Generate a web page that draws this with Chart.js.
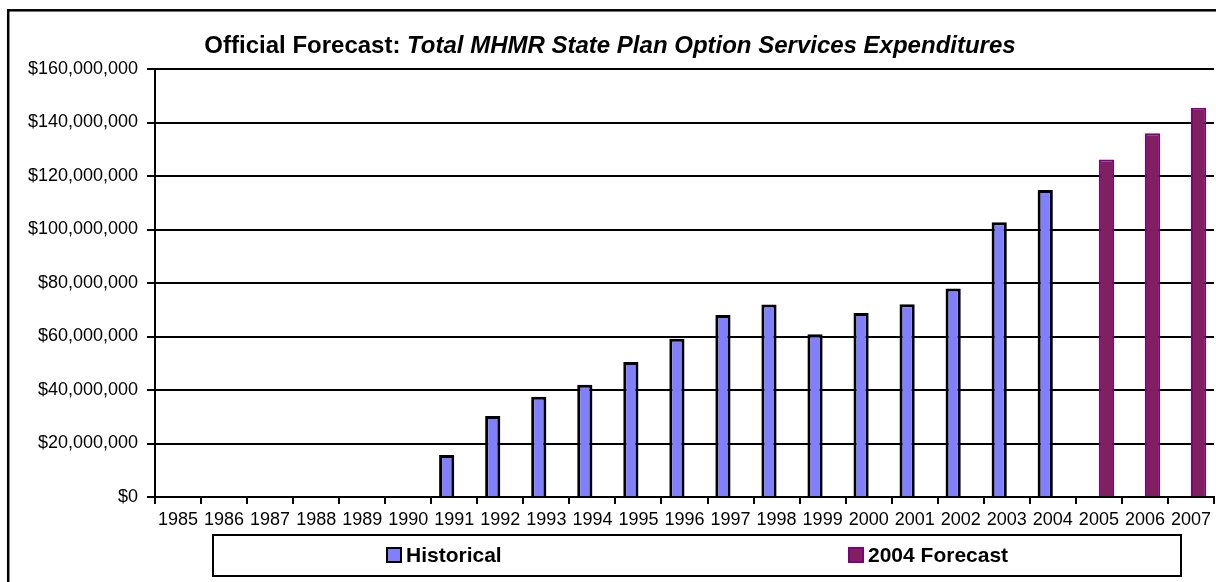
<!DOCTYPE html>
<html>
<head>
<meta charset="utf-8">
<script src="https://cdn.jsdelivr.net/npm/chart.js@4.4.1/dist/chart.umd.min.js"></script>
<style>
  html, body { margin: 0; padding: 0; background: #fff; }
  #wrap { position: relative; width: 1216px; height: 582px; }
</style>
</head>
<body>
<div id="wrap"><canvas id="chart" width="1216" height="582"></canvas></div>
<script>
(function () {

  var years = ['1985', '1986', '1987', '1988', '1989', '1990', '1991', '1992', '1993', '1994', '1995', '1996',
    '1997', '1998', '1999', '2000', '2001', '2002', '2003', '2004', '2005', '2006', '2007'];
  var historical = [null, null, null, null, null, null, 15700000, 30300000, 37500000, 42000000, 50500000, 59200000,
    68000000, 72000000, 60800000, 68800000, 72100000, 77900000, 102700000, 114800000, null, null, null];
  var forecast = [null, null, null, null, null, null, null, null, null, null, null, null,
    null, null, null, null, null, null, null, null, 126200000, 136000000, 145500000];
  var yTicks = [0, 20000000, 40000000, 60000000, 80000000, 100000000, 120000000, 140000000, 160000000];
  var seriesNames = ['Historical', '2004 Forecast'];
  var titleLead = 'Official Forecast: ';
  var titleRest = 'Total MHMR State Plan Option Services Expenditures';

  var FONT = '"Liberation Sans", Arial, Helvetica, sans-serif';

  // outer frame + white background
  var framePlugin = {
    id: 'frame',
    beforeDraw: function (chart) {
      var ctx = chart.ctx;
      ctx.save();
      ctx.fillStyle = '#fff';
      ctx.fillRect(0, 0, chart.width, chart.height);
      ctx.strokeStyle = '#000';
      ctx.lineWidth = 2.5;
      ctx.strokeRect(8.2, 10.3, chart.width + 20, chart.height + 20);
      ctx.restore();
    }
  };

  // title with a bold lead and a bold italic rest
  var titlePlugin = {
    id: 'mixedTitle',
    afterDraw: function (chart) {
      var ctx = chart.ctx;
      ctx.save();
      ctx.fillStyle = '#000';
      ctx.textBaseline = 'alphabetic';
      ctx.font = 'bold 24px ' + FONT;
      var w1 = ctx.measureText(titleLead).width;
      ctx.font = 'italic bold 24px ' + FONT;
      var w2 = ctx.measureText(titleRest).width;
      var x0 = 610 - (w1 + w2) / 2;
      ctx.font = 'bold 24px ' + FONT;
      ctx.fillText(titleLead, x0, 53);
      ctx.font = 'italic bold 24px ' + FONT;
      ctx.fillText(titleRest, x0 + w1, 53);
      ctx.restore();
    }
  };

  // boxed legend under the axis
  var legendPlugin = {
    id: 'boxLegend',
    afterDraw: function (chart) {
      var ctx = chart.ctx;
      var ds = chart.data.datasets;
      var slots = [387, 849];
      ctx.save();
      ctx.strokeStyle = '#000';
      ctx.lineWidth = 2;
      ctx.strokeRect(213, 535, 968, 41);
      ds.forEach(function (d, i) {
        ctx.fillStyle = d.backgroundColor;
        ctx.fillRect(slots[i], 548, 14, 14);
        ctx.strokeStyle = d.borderColor;
        ctx.lineWidth = 2;
        ctx.strokeRect(slots[i], 548, 14, 14);
        ctx.fillStyle = '#000';
        ctx.font = 'bold 21px ' + FONT;
        ctx.textBaseline = 'middle';
        ctx.fillText(d.label, slots[i] + 19, 556);
      });
      ctx.restore();
    }
  };

  new Chart(document.getElementById('chart'), {
    type: 'bar',
    data: {
      labels: years,
      datasets: [{
        label: seriesNames[0],
        data: historical,
        backgroundColor: '#8080FF',
        borderColor: '#000000',
        borderWidth: { top: 3, left: 3, right: 3, bottom: 0 },
        categoryPercentage: 0.66,
        barPercentage: 1
      }, {
        label: seriesNames[1],
        data: forecast,
        backgroundColor: '#802060',
        borderColor: '#800080',
        borderWidth: { top: 2, left: 2, right: 2, bottom: 0 },
        categoryPercentage: 0.66,
        barPercentage: 1
      }]
    },
    options: {
      responsive: false,
      animation: false,
      devicePixelRatio: 1,
      layout: { padding: { top: 69, left: 0, right: 0, bottom: 0 } },
      plugins: {
        legend: { display: false },
        title: { display: false },
        tooltip: { enabled: false }
      },
      scales: {
        x: {
          grid: { offset: true, drawOnChartArea: false, drawTicks: true, tickLength: 7, color: '#000', lineWidth: 2 },
          border: { display: true, color: '#000', width: 2 },
          ticks: { color: '#000', font: { family: FONT, size: 18 }, padding: 5, maxRotation: 0, autoSkip: false },
          afterFit: function (s) { s.height = 85; }
        },
        y: {
          min: 0,
          max: 160000000,
          afterBuildTicks: function (s) {
            s.ticks = yTicks.map(function (v) { return { value: v }; });
          },
          grid: { color: '#000', lineWidth: 2, drawTicks: true, tickLength: 8 },
          border: { display: true, color: '#000', width: 2 },
          ticks: {
            color: '#000',
            font: { family: FONT, size: 18 },
            padding: 9,
            callback: function (v) { return '$' + Number(v).toLocaleString('en-US'); }
          },
          afterFit: function (s) { s.width = 155; }
        }
      }
    },
    plugins: [framePlugin, titlePlugin, legendPlugin]
  });
})();
</script>
</body>
</html>
